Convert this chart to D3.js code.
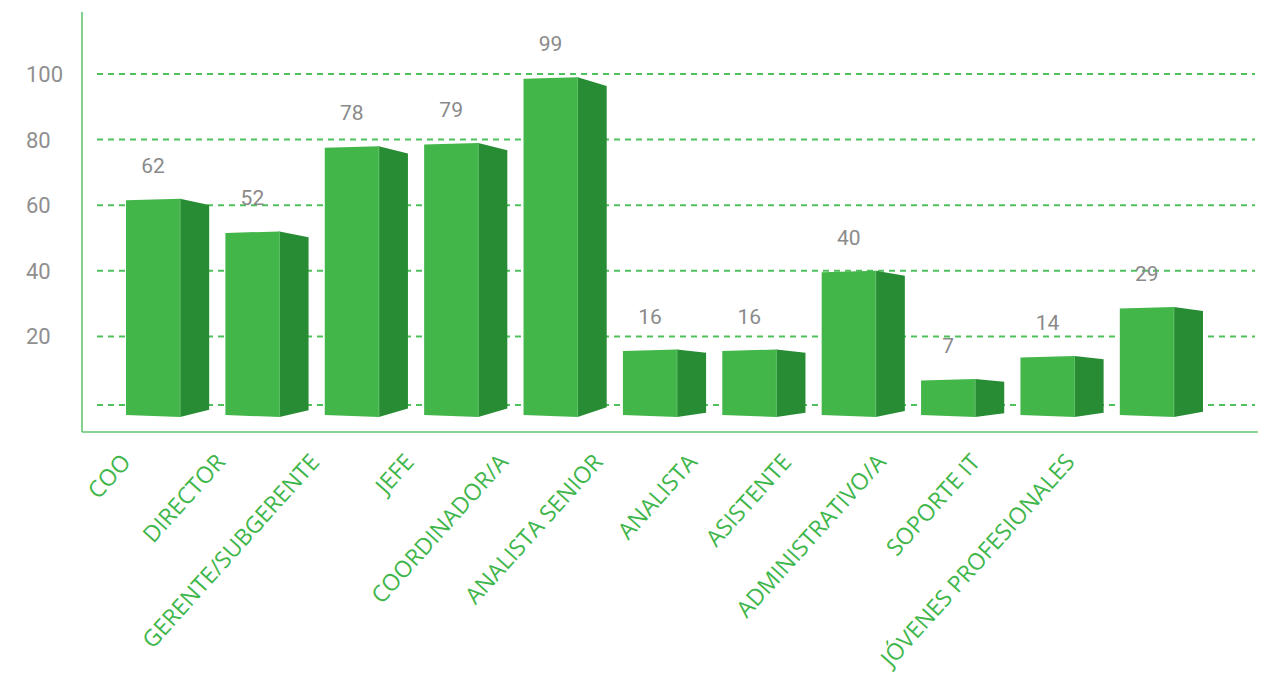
<!DOCTYPE html>
<html>
<head>
<meta charset="utf-8">
<script src="https://cdn.jsdelivr.net/npm/d3@7"></script>
<style>
  html, body { margin: 0; padding: 0; background: #ffffff; }
  svg { display: block; }
</style>
</head>
<body>
<svg id="chart" width="1263" height="697"></svg>
<script>
// Personas por cargo
const categories = ["COO", "DIRECTOR", "GERENTE/SUBGERENTE", "JEFE", "COORDINADOR/A",
  "ANALISTA SENIOR", "ANALISTA", "ASISTENTE", "ADMINISTRATIVO/A", "SOPORTE IT",
  "JÓVENES PROFESIONALES"];
const values = [62, 52, 78, 79, 99, 16, 16, 40, 7, 14, 29];
const gridValues = [0, 20, 40, 60, 80, 100];
const tickLabels = ["", "20", "40", "60", "80", "100"];

const svg = d3.select("#chart");

const frontColor = "#43b64a";
const sideColor = "#288c35";
const gridColor = "#4fc15c";
const axisColor = "#62c56f";
const valueColor = "#8a8a8a";
const labelColor = "#3fb64b";

const y = d3.scaleLinear().domain([0, 100]).range([402, 74]);
const x = d3.scaleBand().domain(categories).range([126, 1203]).paddingInner(0.163).paddingOuter(0);
// positions of the rotated category names along the bottom
const xl = d3.scalePoint().domain(categories).range([132, 1076]);

const floorY = y(0) + 14;   // where the boxes stand in the perspective floor
const frontW = x.bandwidth() * 0.65;
const sideW = x.bandwidth() - frontW;

// dashed gridlines
svg.append("g").selectAll("line")
  .data(gridValues)
  .join("line")
  .attr("x1", 97).attr("x2", 1255)
  .attr("y1", d => y(d) + (d === 0 ? 3 : 0)).attr("y2", d => y(d) + (d === 0 ? 3 : 0))
  .attr("stroke", gridColor)
  .attr("stroke-width", 2)
  .attr("stroke-dasharray", "6,5");

// y tick labels
svg.append("g").selectAll("text")
  .data(gridValues)
  .join("text")
  .attr("x", 26)
  .attr("y", d => y(d) + 8)
  .attr("font-family", "Roboto, sans-serif")
  .attr("font-size", 22)
  .attr("fill", "#8f8f8f")
  .text((d, i) => tickLabels[i]);

// axes
svg.append("line").attr("x1", 82).attr("x2", 82).attr("y1", 12).attr("y2", 432)
  .attr("stroke", axisColor).attr("stroke-width", 1.6);
svg.append("line").attr("x1", 82).attr("x2", 1258).attr("y1", 432).attr("y2", 432)
  .attr("stroke", axisColor).attr("stroke-width", 1.6);

// 3D boxes
const bars = svg.append("g").selectAll("g")
  .data(categories.map((c, i) => ({ c, v: values[i] })))
  .join("g");

bars.append("path")
  .attr("fill", frontColor)
  .attr("d", d => {
    const x0 = x(d.c), top = y(d.v);
    return `M${x0},${top + 1.5}L${x0 + frontW},${top}L${x0 + frontW},${floorY + 1}L${x0},${floorY - 1}Z`;
  });

bars.append("path")
  .attr("fill", sideColor)
  .attr("d", d => {
    const x0 = x(d.c) + frontW, top = y(d.v);
    const dd = 2 + 0.02 * (floorY - top);
    return `M${x0},${top}L${x0 + sideW},${top + dd}L${x0 + sideW},${floorY - dd}L${x0},${floorY + 1}Z`;
  });

bars.append("line")
  .attr("x1", d => x(d.c) + frontW).attr("x2", d => x(d.c) + frontW)
  .attr("y1", d => y(d.v)).attr("y2", floorY + 1)
  .attr("stroke", "#5cbf63").attr("stroke-width", 1);

// value labels
bars.append("text")
  .attr("x", d => x(d.c) + frontW / 2)
  .attr("y", d => y(d.v) - 26)
  .attr("text-anchor", "middle")
  .attr("font-family", "Roboto, sans-serif")
  .attr("font-size", 21)
  .attr("fill", valueColor)
  .text(d => d.v);

// rotated category names
svg.append("g").selectAll("text")
  .data(categories)
  .join("text")
  .attr("transform", d => `translate(${xl(d)},463) rotate(-48)`)
  .attr("text-anchor", "end")
  .attr("font-family", "'Open Sans', sans-serif")
  .attr("font-size", 23)
  .attr("fill", labelColor)
  .text(d => d);
</script>
</body>
</html>
